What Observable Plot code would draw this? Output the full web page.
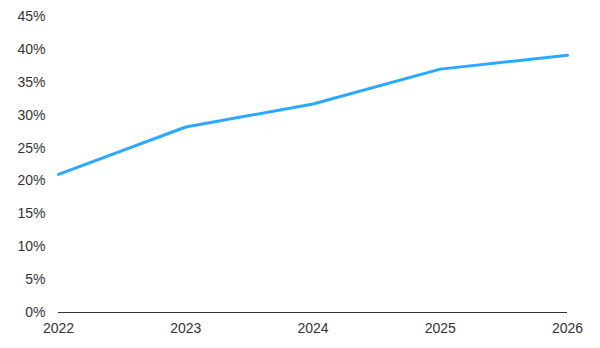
<!DOCTYPE html>
<html>
<head>
<meta charset="utf-8">
<script src="https://cdn.jsdelivr.net/npm/d3@7"></script>
<script src="https://cdn.jsdelivr.net/npm/@observablehq/plot@0.6"></script>
<style>
html, body { margin: 0; padding: 0; background: #fff; }
#chart svg { font-family: "Liberation Sans", Arial, sans-serif; }
</style>
</head>
<body>
<div id="chart"></div>
<script>
const years = [2022, 2023, 2024, 2025, 2026];
const shares = [0.21, 0.282, 0.317, 0.370, 0.391];
const yTicks = [0, 0.05, 0.10, 0.15, 0.20, 0.25, 0.30, 0.35, 0.40, 0.45];

const data = years.map((y, i) => ({year: y, value: shares[i]}));

const chart = Plot.plot({
  width: 600,
  height: 348,
  marginLeft: 58,
  marginRight: 33,
  marginTop: 16,
  marginBottom: 36,
  style: {fontSize: "14px", color: "#333", background: "#fff"},
  x: {domain: [2022, 2026], ticks: years, tickFormat: d => String(d), tickSize: 0, tickPadding: 11, label: null},
  y: {domain: [0, 0.45], ticks: yTicks, tickFormat: d => Math.round(d * 100) + "%", tickSize: 0, tickPadding: 13, label: null},
  marks: [
    Plot.ruleY([0], {stroke: "#333", strokeWidth: 1}),
    Plot.line(data, {x: "year", y: "value", stroke: "#29a9ff", strokeWidth: 3})
  ]
});
document.getElementById("chart").appendChild(chart);
</script>
</body>
</html>
